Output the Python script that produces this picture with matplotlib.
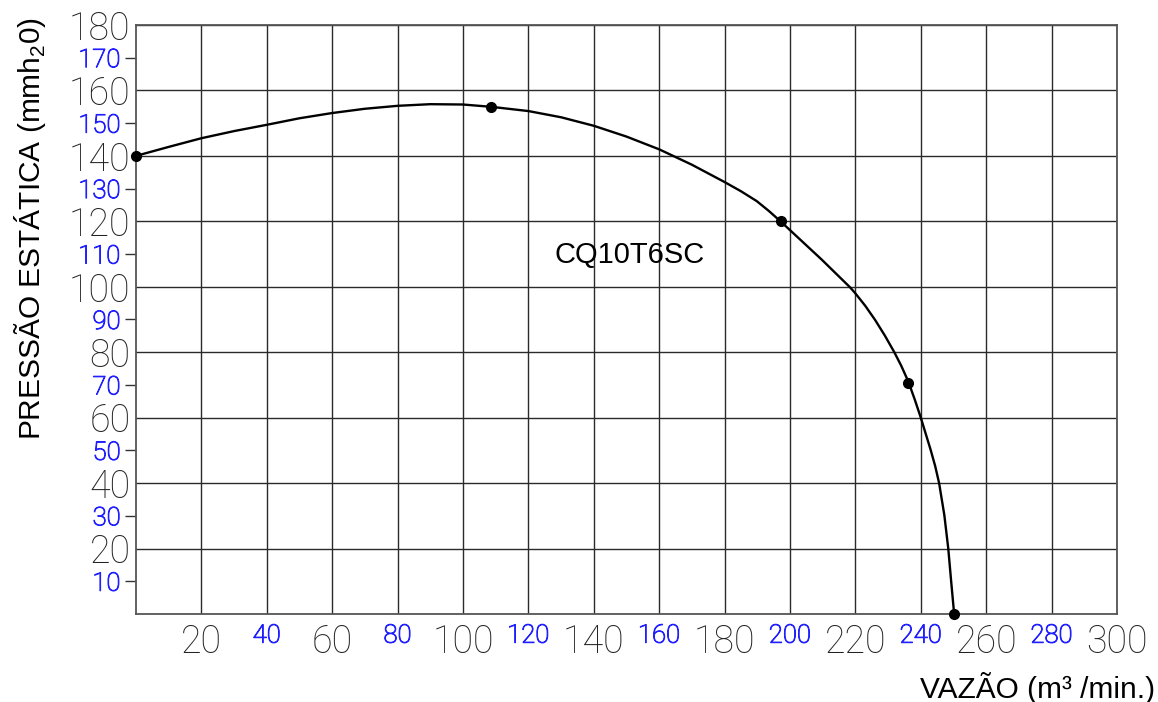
import matplotlib
matplotlib.use('Agg')
import matplotlib.pyplot as plt
import matplotlib.patheffects as pe

# curve (vazão, pressão)
curve_x = [0, 10.2, 20, 30.1, 40, 50, 60, 70, 80, 90, 100, 108.6, 120, 130, 140, 150,
           160, 170, 180, 185, 189.8, 193.5, 197.1, 199.8, 209.7, 218.3, 219.9, 223, 226,
           229, 231.9, 234, 236.2, 238.2, 240, 243, 244.4, 245.6, 247.2, 248.4, 249.3, 250.2]
curve_y = [140, 142.8, 145.4, 147.6, 149.5, 151.5, 153.1, 154.4, 155.3, 155.8, 155.7, 155.0,
           153.7, 151.8, 149.2, 145.9, 142.0, 137.3, 132.0, 129.2, 126.2, 123.2, 120.0, 117.5,
           108.3, 99.9, 98.1, 94.2, 89.9, 85.1, 80.0, 75.9, 71.0, 65.4, 60, 50.2, 45.2, 40,
           30.2, 20, 9.8, 0]

# marked points
point_x = [0, 108.6, 197.1, 236.2, 250.2]
point_y = [140, 155.0, 120, 70.5, 0]

x_major = [20, 60, 100, 140, 180, 220, 260, 300]
x_minor = [40, 80, 120, 160, 200, 240, 280]
y_major = [20, 40, 60, 80, 100, 120, 140, 160, 180]
y_minor = [10, 30, 50, 70, 90, 110, 130, 150, 170]

model_name = 'CQ10T6SC'

blue = '#1f1fff'
tick_font = 'Roboto'

fig = plt.figure(figsize=(11.58, 7.02), dpi=100)
ax = fig.add_axes([136 / 1158, 88 / 702, 981 / 1158, 589 / 702])

ax.set_xlim(0, 300)
ax.set_ylim(0, 180)

ax.set_xticks(x_major)
ax.set_xticks(x_minor, minor=True)
ax.set_yticks(y_major)
ax.set_yticks(y_minor, minor=True)

ax.set_xticklabels([str(v) for v in x_major], fontsize=27, color='#222222',
                   family=tick_font, fontweight='light')
ax.set_xticklabels([str(v) for v in x_minor], minor=True, fontsize=18.5, color=blue,
                   family=tick_font, fontweight='light')
ax.set_yticklabels([str(v) for v in y_major], fontsize=27, color='#222222',
                   family=tick_font, fontweight='light')
ax.set_yticklabels([str(v) for v in y_minor], minor=True, fontsize=18.5, color=blue,
                   family=tick_font, fontweight='light')

# thin font is too faint in blue, give it a little stroke
thicken = [pe.withStroke(linewidth=0.7, foreground=blue)]
for lab in ax.get_xticklabels(minor=True) + ax.get_yticklabels(minor=True):
    lab.set_path_effects(thicken)

ax.tick_params(axis='x', which='major', length=0, pad=7)
ax.tick_params(axis='x', which='minor', length=0, pad=7)
ax.tick_params(axis='y', which='major', length=0, pad=4)
ax.tick_params(axis='y', which='minor', length=8, width=1, color='#333333', pad=3)

ax.grid(True, which='major', color='#2a2a2a', linewidth=1)
ax.xaxis.grid(True, which='minor', color='#2a2a2a', linewidth=1)

for s in ax.spines.values():
    s.set_color('#555555')
    s.set_linewidth(1.3)

ax.plot(curve_x, curve_y, color='black', linewidth=1.7, zorder=3, clip_on=False,
        solid_joinstyle='round')
ax.plot(point_x, point_y, 'o', color='black', markersize=7, zorder=4, clip_on=False)

ax.text(151, 109.8, model_name, fontsize=21, family='Liberation Sans',
        ha='center', va='center', color='black')

fig.text(30 / 1158, 0.675, 'PRESSÃO ESTÁTICA (mmh$_\\mathregular{2}$0)', rotation=90,
         fontsize=21.5, family='Liberation Sans', ha='center', va='center')
fig.text(1155 / 1158, 14 / 702, 'VAZÃO (m³ /min.)', fontsize=21.5,
         family='Liberation Sans', ha='right', va='center')

fig.savefig('out.png', dpi=100)
